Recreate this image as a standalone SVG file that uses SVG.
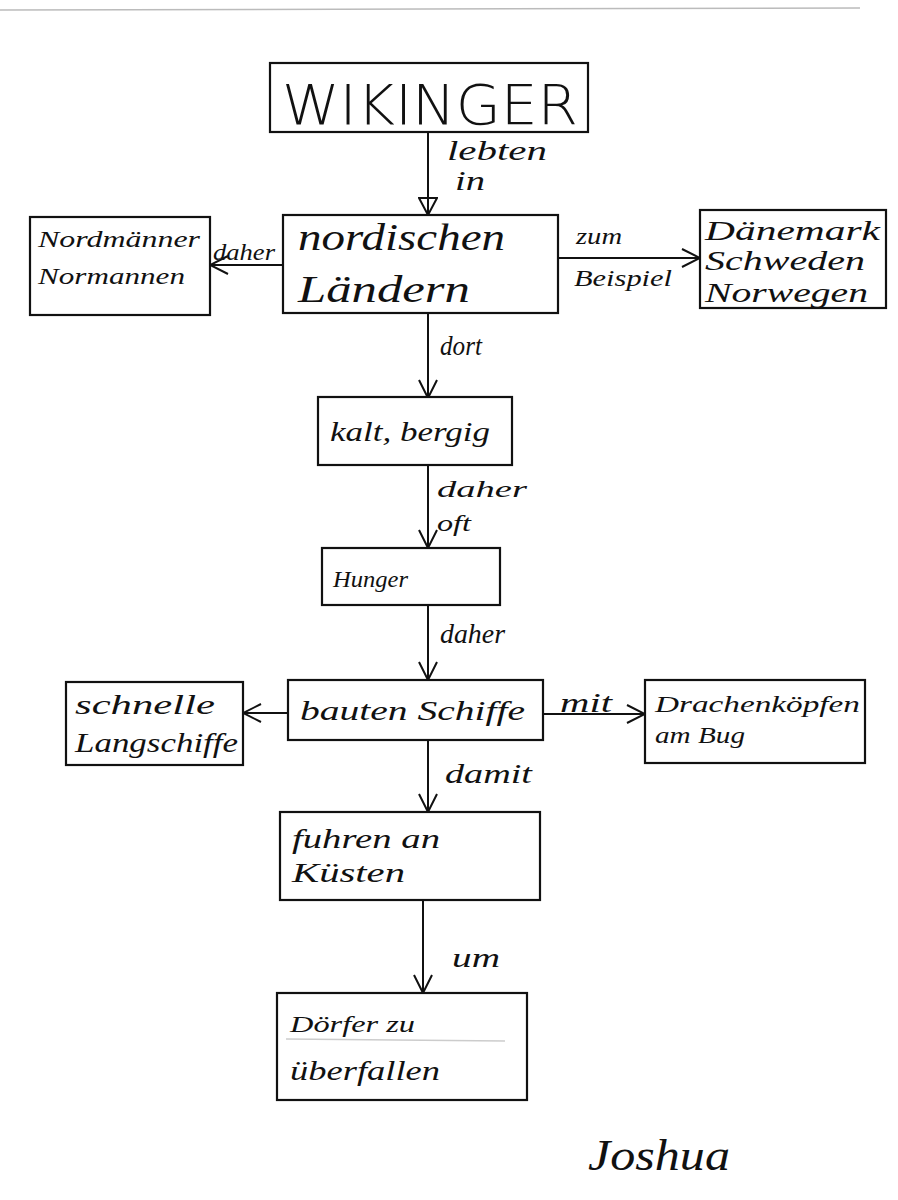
<svg xmlns="http://www.w3.org/2000/svg" width="898" height="1200" viewBox="0 0 898 1200">
<defs>
<style>
.box{fill:none;stroke:#111;stroke-width:2.2}
.ln{fill:none;stroke:#111;stroke-width:2}
text{font-family:"Liberation Serif",serif;font-style:italic;fill:#111}
.t{font-size:27px}
.s{font-size:24px}
.big{font-size:38px}
</style>
<marker id="v" viewBox="0 0 20 20" refX="20" refY="10" markerWidth="20" markerHeight="20" markerUnits="userSpaceOnUse" orient="auto">
<path d="M2,1 L20,10 L2,19" fill="none" stroke="#111" stroke-width="2"/>
</marker>
<marker id="tri" viewBox="0 0 30 20" refX="30" refY="10" markerWidth="30" markerHeight="20" markerUnits="userSpaceOnUse" orient="auto">
<path d="M13,1 L30,10 L13,19 Z" fill="none" stroke="#111" stroke-width="2"/>
</marker>
</defs>
<rect width="898" height="1200" fill="#fff"/>
<line x1="0" y1="10" x2="860" y2="8" stroke="#bbb" stroke-width="1.5"/>
<g id="connectors">
<line class="ln" x1="428" y1="132" x2="428" y2="215" marker-end="url(#tri)"/>
<line class="ln" x1="283" y1="265" x2="210" y2="265" marker-end="url(#v)"/>
<line class="ln" x1="558" y1="258" x2="700" y2="258" marker-end="url(#v)"/>
<line class="ln" x1="428" y1="313" x2="428" y2="398" marker-end="url(#v)"/>
<line class="ln" x1="428" y1="465" x2="428" y2="548" marker-end="url(#v)"/>
<line class="ln" x1="428" y1="605" x2="428" y2="680" marker-end="url(#v)"/>
<line class="ln" x1="288" y1="713" x2="243" y2="713" marker-end="url(#v)"/>
<line class="ln" x1="543" y1="714" x2="645" y2="714" marker-end="url(#v)"/>
<line class="ln" x1="428" y1="740" x2="428" y2="812" marker-end="url(#v)"/>
<line class="ln" x1="423" y1="900" x2="423" y2="993" marker-end="url(#v)"/>
<text class="t" x="447" y="160" textLength="100" lengthAdjust="spacingAndGlyphs">lebten</text>
<text class="t" x="455" y="190" textLength="30" lengthAdjust="spacingAndGlyphs">in</text>
<text class="s" x="213" y="260" textLength="62" lengthAdjust="spacingAndGlyphs">daher</text>
<text class="s" x="576" y="244" textLength="46" lengthAdjust="spacingAndGlyphs">zum</text>
<text class="s" x="574" y="286" textLength="98" lengthAdjust="spacingAndGlyphs">Beispiel</text>
<text class="t" x="440" y="355" textLength="42" lengthAdjust="spacingAndGlyphs">dort</text>
<text class="s" x="437" y="497" textLength="90" lengthAdjust="spacingAndGlyphs">daher</text>
<text class="s" x="437" y="531" textLength="34" lengthAdjust="spacingAndGlyphs">oft</text>
<text class="t" x="440" y="643" textLength="65" lengthAdjust="spacingAndGlyphs">daher</text>
<text class="t" x="560" y="712" textLength="52" lengthAdjust="spacingAndGlyphs">mit</text>
<text class="t" x="445" y="783" textLength="87" lengthAdjust="spacingAndGlyphs">damit</text>
<text class="t" x="452" y="967" textLength="48" lengthAdjust="spacingAndGlyphs">um</text>
</g>
<g id="wikinger">
<rect class="box" x="270" y="63" width="318" height="69"/>
<text x="282" y="124" font-size="56" font-weight="200" textLength="296" lengthAdjust="spacingAndGlyphs" style="font-style:normal;font-family:'DejaVu Sans',sans-serif">WIKINGER</text>
</g>
<g id="laender">
<rect class="box" x="283" y="215" width="275" height="98"/>
<text class="big" x="298" y="250" textLength="207" lengthAdjust="spacingAndGlyphs">nordischen</text>
<text class="big" x="298" y="302" textLength="172" lengthAdjust="spacingAndGlyphs">Ländern</text>
</g>
<g id="nordmaenner">
<rect class="box" x="30" y="217" width="180" height="98"/>
<text class="s" x="38" y="247" textLength="162" lengthAdjust="spacingAndGlyphs">Nordmänner</text>
<text class="s" x="38" y="284" textLength="147" lengthAdjust="spacingAndGlyphs">Normannen</text>
</g>
<g id="laenderliste">
<rect class="box" x="700" y="210" width="186" height="98"/>
<text class="t" x="705" y="240" textLength="175" lengthAdjust="spacingAndGlyphs">Dänemark</text>
<text class="t" x="705" y="270" textLength="160" lengthAdjust="spacingAndGlyphs">Schweden</text>
<text class="t" x="705" y="302" textLength="163" lengthAdjust="spacingAndGlyphs">Norwegen</text>
</g>
<g id="kalt">
<rect class="box" x="318" y="397" width="194" height="68"/>
<text class="t" x="330" y="441" textLength="160" lengthAdjust="spacingAndGlyphs">kalt, bergig</text>
</g>
<g id="hunger">
<rect class="box" x="322" y="548" width="178" height="57"/>
<text class="s" x="333" y="587" textLength="75" lengthAdjust="spacingAndGlyphs">Hunger</text>
</g>
<g id="schiffe">
<rect class="box" x="288" y="680" width="255" height="60"/>
<text class="t" x="300" y="720" textLength="225" lengthAdjust="spacingAndGlyphs">bauten Schiffe</text>
</g>
<g id="langschiffe">
<rect class="box" x="66" y="682" width="177" height="83"/>
<text class="t" x="75" y="714" textLength="140" lengthAdjust="spacingAndGlyphs">schnelle</text>
<text class="t" x="75" y="752" textLength="163" lengthAdjust="spacingAndGlyphs">Langschiffe</text>
</g>
<g id="drachen">
<rect class="box" x="645" y="680" width="220" height="83"/>
<text class="s" x="655" y="712" textLength="205" lengthAdjust="spacingAndGlyphs">Drachenköpfen</text>
<text class="s" x="655" y="743" textLength="90" lengthAdjust="spacingAndGlyphs">am Bug</text>
</g>
<g id="kuesten">
<rect class="box" x="280" y="812" width="260" height="88"/>
<text class="t" x="292" y="848" textLength="148" lengthAdjust="spacingAndGlyphs">fuhren an</text>
<text class="t" x="292" y="882" textLength="113" lengthAdjust="spacingAndGlyphs">Küsten</text>
</g>
<g id="doerfer">
<rect class="box" x="277" y="993" width="250" height="107"/>
<text class="s" x="290" y="1032" textLength="125" lengthAdjust="spacingAndGlyphs">Dörfer zu</text>
<line x1="286" y1="1039" x2="505" y2="1041" stroke="#ccc" stroke-width="1.5"/>
<text class="t" x="290" y="1080" textLength="150" lengthAdjust="spacingAndGlyphs">überfallen</text>
</g>
<text x="588" y="1170" font-size="44" textLength="142" lengthAdjust="spacingAndGlyphs" style="font-family:'Liberation Serif',serif;font-style:italic">Joshua</text>
</svg>
